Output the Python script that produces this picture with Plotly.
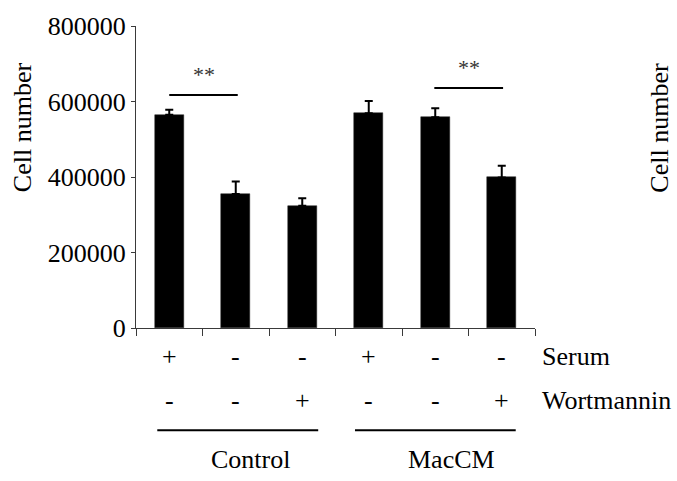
import plotly.graph_objects as go

# Treatment conditions (bar order) and measured cell counts
conditions = ["Control +S -W", "Control -S -W", "Control -S +W",
              "MacCM +S -W", "MacCM -S -W", "MacCM -S +W"]
cell_number = [565000, 355000, 324000, 569000, 558000, 399000]
cell_error = [13000, 33000, 20000, 32000, 24000, 31000]
serum_row = ["+", "-", "-", "+", "-", "-"]
wortmannin_row = ["-", "-", "+", "-", "-", "+"]
groups = ["Control", "MacCM"]
y_ticks = [0, 200000, 400000, 600000, 800000]
y_tick_labels = ["0", "200000", "400000", "600000", "800000"]

FONT = "Liberation Serif, Times New Roman, serif"
AXIS = "#3a3a3a"
FS = 26
xpos = list(range(len(conditions)))

fig = go.Figure()
fig.add_trace(go.Bar(
    x=xpos, y=cell_number, width=0.435,
    marker=dict(color="black", line=dict(color="#222", width=0.5)),
    error_y=dict(type="data", array=cell_error, arrayminus=[0] * len(cell_error),
                 symmetric=False, color="black", thickness=2, width=4),
    hovertext=conditions,
))


def label(**kw):
    base = dict(showarrow=False, xanchor="center", yanchor="middle",
                font=dict(size=FS, family=FONT, color="black"))
    base.update(kw)
    return base


ann = []
# +/- treatment rows under each bar
for i in xpos:
    ann.append(label(x=i, y=-0.094, xref="x", yref="paper", text=serum_row[i]))
    ann.append(label(x=i, y=-0.239, xref="x", yref="paper", text=wortmannin_row[i]))
ann.append(label(x=1.0125, y=-0.094, xref="paper", yref="paper", text="Serum", xanchor="left"))
ann.append(label(x=1.0125, y=-0.239, xref="paper", yref="paper", text="Wortmannin", xanchor="left"))
# group names
for gx, g in zip([1.225, 4.247], groups):
    ann.append(label(x=gx, y=-0.434, xref="x", yref="paper", text=g))
# significance marks
for sx, sy in [(0.52, 672000), (4.5, 690000)]:
    ann.append(label(x=sx, y=sy, xref="x", yref="y", text="**",
                     font=dict(size=22, family=FONT, color="#333")))
# axis titles (left panel and the neighbouring panel at the right edge)
for tx in [-0.2857, 1.312]:
    ann.append(label(x=tx, y=0.665, xref="paper", yref="paper", text="Cell number",
                     textangle=-90))

shapes = []
# group underlines
for x0, x1 in [(-0.18, 2.24), (2.793, 5.21)]:
    shapes.append(dict(type="line", xref="x", yref="paper", x0=x0, x1=x1,
                       y0=-0.3388, y1=-0.3388, line=dict(color="black", width=2)))
# significance bars
for x0, x1, y in [(0.0, 1.03, 617000), (3.986, 5.02, 635700)]:
    shapes.append(dict(type="line", xref="x", yref="y", x0=x0, x1=x1, y0=y, y1=y,
                       line=dict(color="black", width=2)))

fig.update_layout(
    width=677, height=481,
    margin=dict(l=136, r=142, t=16, b=153),
    paper_bgcolor="white", plot_bgcolor="white",
    showlegend=False, bargap=0,
    annotations=ann, shapes=shapes,
    font=dict(family=FONT, color="black"),
)
fig.update_xaxes(
    range=[-0.5, 5.5], tickvals=[i - 0.5 for i in range(len(conditions) + 1)],
    showticklabels=False, ticks="outside", ticklen=7, tickcolor=AXIS, tickwidth=1,
    showline=True, linecolor=AXIS, linewidth=1, showgrid=False, zeroline=False,
)
fig.update_yaxes(
    range=[0, 800000], tickvals=y_ticks, ticktext=y_tick_labels,
    ticks="outside", ticklen=4, tickcolor=AXIS, tickwidth=1,
    tickfont=dict(size=FS, family=FONT, color="black"),
    showline=True, linecolor=AXIS, linewidth=1, showgrid=False, zeroline=False,
)

fig.write_html("out.html")
